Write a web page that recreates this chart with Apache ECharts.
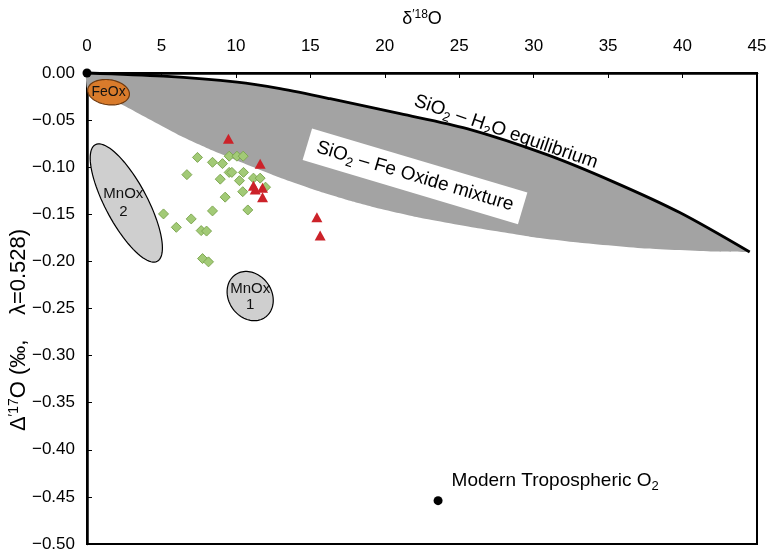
<!DOCTYPE html>
<html><head><meta charset="utf-8">
<script src="https://cdn.jsdelivr.net/npm/echarts@6/dist/echarts.min.js"></script>
<style>html,body{margin:0;padding:0;background:#fff}#c{width:767px;height:556px}</style>
</head><body><div id="c"></div>
<script>
// ---- data ----
const equilibriumX = [0, 5.13, 10.09, 12.97, 16.33, 21.03, 25.52, 30.89, 35.32, 39.81, 44.51];
const equilibriumY = [0, -0.0034, -0.0098, -0.0167, -0.0273, -0.0432, -0.0591, -0.0867, -0.1153, -0.1482, -0.1901];
const mixtureLowerX = [0.09, 2.23, 4.25, 6.26, 8.48, 10.76, 12.97, 15.46, 17.67, 19.68, 22.37, 26.40, 29.75, 33.11, 37.61, 42.04, 44.51];
const mixtureLowerY = [-0.0198, -0.0326, -0.0496, -0.0665, -0.0825, -0.0973, -0.1111, -0.1249, -0.1355, -0.1440, -0.1536, -0.1652, -0.1737, -0.1801, -0.1864, -0.1896, -0.1901];
const greenX = [7.42, 8.43, 9.10, 9.55, 10.07, 10.49, 6.71, 8.95, 9.55, 9.73, 10.51, 10.24, 11.18, 11.63, 11.99, 9.28, 10.46, 5.14, 6.00, 7.00, 8.43, 10.80, 7.67, 8.03, 7.76, 8.16];
const greenY = [-0.0896, -0.0948, -0.0962, -0.0883, -0.0883, -0.0883, -0.1079, -0.1127, -0.1055, -0.1055, -0.1055, -0.1143, -0.1116, -0.1116, -0.1212, -0.1318, -0.1260, -0.1496, -0.1638, -0.1549, -0.1464, -0.1454, -0.1673, -0.1678, -0.1970, -0.2005];
const redX = [9.50, 11.63, 11.18, 11.30, 11.79, 11.79, 15.44, 15.66];
const redY = [-0.0697, -0.0963, -0.1196, -0.1238, -0.1217, -0.1320, -0.1532, -0.1726];
const blackPointX = [0, 23.58];
const blackPointY = [0, -0.454];
const fieldNames = ['FeOx', 'MnOx\n2', 'MnOx\n1'];
const fieldX = [1.45, 2.64, 10.96];
const fieldY = [-0.0204, -0.138, -0.2368];
const annotationText = ['SiO{sub|2} \u2013 H{sub|2}O equilibrium', 'SiO{sub|2} \u2013 Fe Oxide mixture', 'Modern Tropospheric O{sub|2}'];
const annotationX = [28.14, 22.03, 23.58];
const annotationY = [-0.0625, -0.1097, -0.454];
const xMin = 0, xMax = 45, xStep = 5;
const yMin = -0.5, yMax = 0, yStep = 0.05;

// ---- styles ----
const FONT = '"Liberation Sans", Arial, Helvetica, sans-serif';
const fieldStyle = [
  {a: 21, b: 12.5, rot: 8, fill: '#d97b2b', stroke: '#6e3a10', size: 14, lh: 16, dx: 0, dy: 0},
  {a: 66, b: 21, rot: 62, fill: '#cfcfcf', stroke: '#000', size: 15, lh: 18, dx: -3, dy: 0},
  {a: 26, b: 21.5, rot: 55, fill: '#cfcfcf', stroke: '#000', size: 15, lh: 16, dx: 0, dy: 1}
];
const annotationStyle = [
  {rot: -19, align: 'center', dx: 0, dy: 0, bg: null, pad: 0},
  {rot: -16.6, align: 'center', dx: 0, dy: 0, bg: '#fff', pad: [4, 10, 4, 10]},
  {rot: 0, align: 'left', dx: 13.5, dy: -20, bg: null, pad: 0}
];
const subRich = {sub: {fontSize: 13, fontFamily: FONT, fill: '#000', verticalAlign: 'bottom', lineHeight: 25}};

const fmt = v => (Math.abs(v) < 1e-9 ? 0 : v).toFixed(2).replace('-', '\u2212');

const chart = echarts.init(document.getElementById('c'), null, {renderer: 'canvas'});

const option = {
  animation: false,
  backgroundColor: '#fff',
  grid: {left: 87, right: 10, top: 73, bottom: 12, show: true, borderColor: '#000', borderWidth: 2,
    backgroundColor: 'transparent', containLabel: false, outerBoundsMode: 'none'},
  xAxis: {
    type: 'value', position: 'top', min: xMin, max: xMax, interval: xStep,
    name: '\u03b4{sup|\u2032' + '18}O', nameLocation: 'middle', nameGap: 44, nameMoveOverlap: false,
    nameTextStyle: {fontSize: 18, fontFamily: FONT, color: '#000', lineHeight: 20,
      rich: {sup: {fontSize: 12, fontFamily: FONT, color: '#000', verticalAlign: 'top', lineHeight: 20}}},
    axisLine: {onZero: false, lineStyle: {color: '#000', width: 2.5}},
    axisTick: {inside: true, length: 5, lineStyle: {color: '#000', width: 1}},
    axisLabel: {margin: 18, fontSize: 17, fontFamily: FONT, color: '#000'},
    splitLine: {show: false}
  },
  yAxis: {
    type: 'value', min: yMin, max: yMax, interval: yStep,
    name: '\u0394{sup|\u203217}O (\u2030,    \u03bb=0.528)', nameLocation: 'middle', nameGap: 56, nameMoveOverlap: false,
    nameTextStyle: {fontSize: 22, fontFamily: FONT, color: '#000', lineHeight: 24, padding: [0, 43, 0, 0],
      rich: {sup: {fontSize: 14, fontFamily: FONT, color: '#000', verticalAlign: 'top', lineHeight: 24}}},
    axisLine: {onZero: false, lineStyle: {color: '#000', width: 2.5}},
    axisTick: {inside: true, length: 5, lineStyle: {color: '#000', width: 1}},
    axisLabel: {margin: 12, fontSize: 17, fontFamily: FONT, color: '#000', formatter: fmt},
    splitLine: {show: false}
  },
  series: [
    {
      type: 'custom', name: 'mixture', z: 1, silent: true,
      data: [[0, 0]],
      renderItem: function (params, api) {
        const upper = equilibriumX.map((x, i) => api.coord([x, equilibriumY[i]]));
        const lower = mixtureLowerX.map((x, i) => api.coord([x, mixtureLowerY[i]]));
        const poly = upper.concat(lower.slice().reverse());
        return {type: 'group', children: [
          {type: 'polygon', shape: {points: poly, smooth: 0.15}, style: {fill: '#a3a3a3', stroke: null}},
          {type: 'polyline', shape: {points: upper, smooth: 0.3}, style: {stroke: '#000', lineWidth: 2.8, fill: null}}
        ]};
      }
    },
    {
      type: 'custom', name: 'fields', z: 3, silent: true,
      data: fieldX.map((x, i) => [x, fieldY[i], i]),
      renderItem: function (params, api) {
        const i = api.value(2);
        const s = fieldStyle[i];
        const c = api.coord([api.value(0), api.value(1)]);
        const th = s.rot * Math.PI / 180;
        const pts = [];
        for (let k = 0; k < 90; k++) {
          const p = 2 * Math.PI * k / 90;
          const ex = s.a * Math.cos(p), ey = s.b * Math.sin(p);
          pts.push([c[0] + ex * Math.cos(th) - ey * Math.sin(th), c[1] + ex * Math.sin(th) + ey * Math.cos(th)]);
        }
        return {type: 'group', children: [
          {type: 'polygon', shape: {points: pts}, style: {fill: s.fill, stroke: s.stroke, lineWidth: 1.2}},
          {type: 'text', x: c[0] + s.dx, y: c[1] + s.dy, style: {text: fieldNames[i], fontSize: s.size, fontFamily: FONT, fill: '#111', align: 'center', verticalAlign: 'middle', lineHeight: s.lh}}
        ]};
      }
    },
    {
      type: 'scatter', name: 'green', z: 4, symbol: 'diamond', symbolSize: 10,
      itemStyle: {color: '#a2ca76', borderColor: '#7fa853', borderWidth: 1, opacity: 1},
      data: greenX.map((x, i) => [x, greenY[i]])
    },
    {
      type: 'scatter', name: 'red', z: 5, symbol: 'triangle', symbolSize: [11, 10],
      itemStyle: {color: '#cc2229', opacity: 1},
      data: redX.map((x, i) => [x, redY[i]])
    },
    {
      type: 'scatter', name: 'black', z: 6, symbol: 'circle', symbolSize: 9,
      itemStyle: {color: '#000', opacity: 1},
      data: blackPointX.map((x, i) => [x, blackPointY[i]])
    },
    {
      type: 'custom', name: 'annotations', z: 7, silent: true,
      data: annotationX.map((x, i) => [x, annotationY[i], i]),
      renderItem: function (params, api) {
        const i = api.value(2);
        const s = annotationStyle[i];
        const c = api.coord([api.value(0), api.value(1)]);
        return {
          type: 'text', x: c[0] + s.dx, y: c[1] + s.dy, rotation: s.rot * Math.PI / 180,
          style: {text: annotationText[i], fontSize: 19, fontFamily: FONT, fill: '#000', align: s.align, verticalAlign: 'middle',
            lineHeight: 25, backgroundColor: s.bg, padding: s.pad, rich: subRich}
        };
      }
    }
  ]
};
chart.setOption(option);
</script>
</body></html>
